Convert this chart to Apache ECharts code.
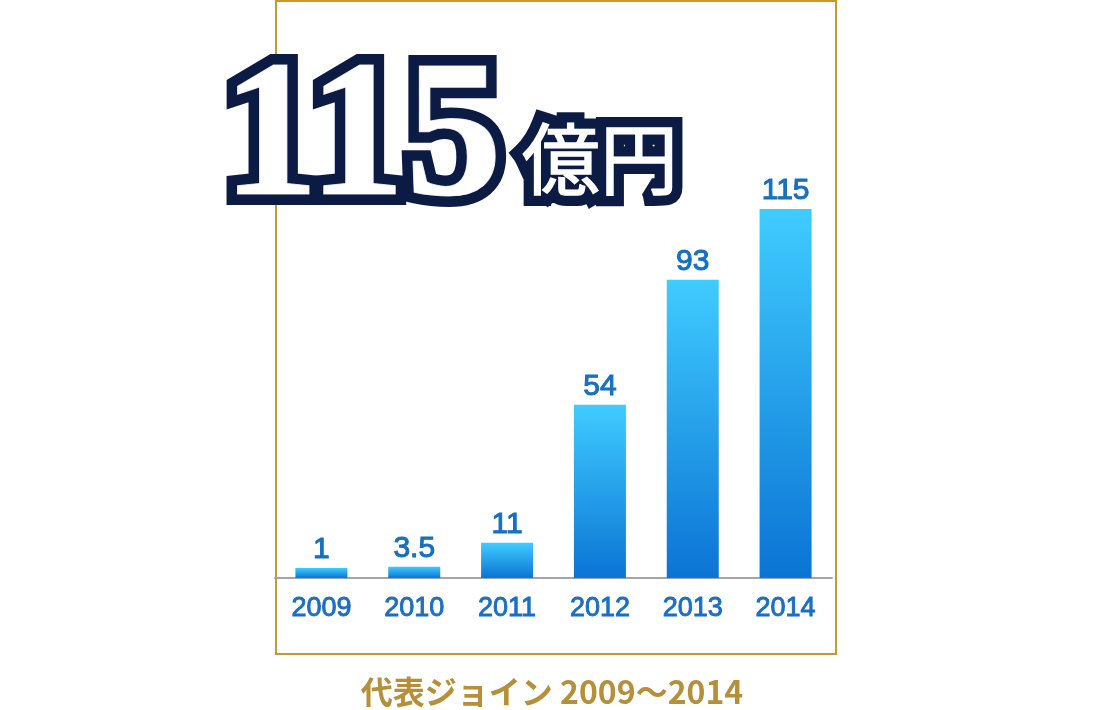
<!DOCTYPE html>
<html>
<head>
<meta charset="utf-8">
<script src="https://cdn.jsdelivr.net/npm/echarts@6/dist/echarts.min.js"></script>
<style>
html,body{margin:0;padding:0;background:#fff;}
#c{width:1119px;height:710px;}
</style>
</head>
<body>
<div id="c"></div>
<script>
var years = ['2009','2010','2011','2012','2013','2014'];
var revenue = [1, 3.5, 11, 54, 93, 115];
var headline = '115';
var unit = '億円';
var caption = '代表ジョイン 2009～2014';

var chart = echarts.init(document.getElementById('c'));
var navy = '#0b1b44';
chart.setOption({
  animation: false,
  backgroundColor: '#ffffff',
  grid: { left: 275, width: 557, top: 193, bottom: 132, containLabel: false },
  xAxis: {
    type: 'category',
    data: years,
    axisLine: { show: true, lineStyle: { color: '#a2a5ad', width: 2 } },
    axisTick: { show: false },
    axisLabel: { color: '#1a6fc4', fontSize: 27, fontFamily: 'Liberation Sans, Arial, sans-serif', fontWeight: 'normal',
      textBorderColor: '#1a6fc4', textBorderWidth: 0.9, margin: 17 }
  },
  yAxis: {
    type: 'value', min: 0, max: 120,
    show: false, splitLine: { show: false }
  },
  series: [{
    type: 'bar',
    data: revenue,
    barWidth: 52,
    barMinHeight: 10,
    itemStyle: {
      color: new echarts.graphic.LinearGradient(0, 0, 0, 1, [
        { offset: 0, color: '#40ccff' },
        { offset: 1, color: '#0b74d4' }
      ])
    },
    label: {
      show: true, position: 'top', distance: 3,
      color: '#1570c0', fontSize: 30, fontWeight: 'normal',
      textBorderColor: '#1570c0', textBorderWidth: 1,
      fontFamily: 'Liberation Sans, Arial, sans-serif'
    }
  }],
  graphic: [
    { type: 'rect', shape: { x: 276, y: 1, width: 560, height: 653 },
      style: { fill: 'none', stroke: '#c9992e', lineWidth: 2 }, z: 0 },
    { type: 'text', x: 222, y: 144, z: 10,
      style: { text: headline, font: 'bold 194px "Liberation Serif", serif', fill: navy,
        stroke: navy, lineWidth: 22, lineJoin: 'round', textAlign: 'left', textVerticalAlign: 'middle' } },
    { type: 'text', x: 522, y: 159, z: 10,
      style: { text: unit, font: 'normal 78px "Noto Sans CJK JP", sans-serif', fill: navy,
        stroke: navy, lineWidth: 22, lineJoin: 'round', textAlign: 'left', textVerticalAlign: 'middle' } },
    { type: 'text', x: 222, y: 144, z: 11,
      style: { text: headline, font: 'bold 194px "Liberation Serif", serif', fill: '#ffffff',
        stroke: '#c8ccd6', lineWidth: 1, textAlign: 'left', textVerticalAlign: 'middle' } },
    { type: 'text', x: 522, y: 159, z: 11,
      style: { text: unit, font: 'normal 78px "Noto Sans CJK JP", sans-serif', fill: '#ffffff',
        stroke: '#ffffff', lineWidth: 1.5, textAlign: 'left', textVerticalAlign: 'middle' } },
    { type: 'text', x: 552, y: 692, z: 10,
      style: { text: caption, font: 'bold 32px "Noto Sans CJK JP", "Liberation Sans", sans-serif', fill: '#b58f3a',
        textAlign: 'center', textVerticalAlign: 'middle' } }
  ]
});
</script>
</body>
</html>
